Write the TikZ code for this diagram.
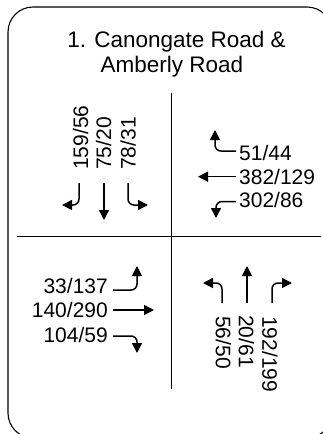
\documentclass[tikz,border=0pt]{standalone}
\usepackage{fontspec}
\setmainfont{Liberation Sans}
\usetikzlibrary{arrows.meta}
\begin{document}
\begin{tikzpicture}[x=1pt,y=-1pt,
  num/.style={inner sep=0pt,font=\fontsize{21}{24}\selectfont},
  ttl/.style={inner sep=0pt,font=\fontsize{22.5}{25}\selectfont,anchor=base},
  mv/.style={line width=1.5pt,-{Triangle[length=10pt,width=10pt]},rounded corners=6pt},
  frame/.style={line width=1.1pt,rounded corners=25pt},
  grid/.style={line width=1.1pt}]
\useasboundingbox (0,0) rectangle (323,434);
\clip (0,0) rectangle (323,434);
\draw[frame] (8,7) rectangle (332,438);
% title
\node[ttl] (t1) at (176.5,47) {1. Canongate Road \&};
\node[ttl] (t2) at (172,72) {Amberly Road};
% dividers
\draw[grid] (171.5,93) -- (171.5,389);
\draw[grid] (17,236.7) -- (321,236.7);
% top-left (southbound)
\node[num,rotate=90,anchor=west] (a1) at (80.5,170) {159/56};
\node[num,rotate=90,anchor=west] (a2) at (103.5,170) {75/20};
\node[num,rotate=90,anchor=west] (a3) at (128,170) {78/31};
\draw[mv] (79,183) -- (79,205) -- (62,205);
\draw[mv] (104,183) -- (104,220);
\draw[mv] (128,183) -- (128,205) -- (148,205);
% top-right (westbound)
\node[num,anchor=west] (b1) at (239,152.5) {51/44};
\node[num,anchor=west] (b2) at (239,176.5) {382/129};
\node[num,anchor=west] (b3) at (239,200) {302/86};
\draw[mv] (236,151) -- (215,151) -- (215,130);
\draw[mv] (236,176.7) -- (198,176.7);
\draw[mv] (236,201.5) -- (216,201.5) -- (216,218);
% bottom-left (eastbound)
\node[num,anchor=east] (c1) at (108,285.5) {33/137};
\node[num,anchor=east] (c2) at (108,310) {140/290};
\node[num,anchor=east] (c3) at (108,335) {104/59};
\draw[mv] (113,290) -- (137,290) -- (137,266);
\draw[mv] (113,310) -- (154,310);
\draw[mv] (113,336) -- (137,336) -- (137,353);
% bottom-right (northbound)
\draw[mv] (222,303) -- (222,283) -- (203,283);
\draw[mv] (247,303) -- (247,266);
\draw[mv] (272,303) -- (272,283) -- (292,283);
\node[num,rotate=-90,anchor=west] (d1) at (223.5,316) {56/50};
\node[num,rotate=-90,anchor=west] (d2) at (246.5,315) {20/61};
\node[num,rotate=-90,anchor=west] (d3) at (270,316) {192/199};
\end{tikzpicture}
\end{document}
